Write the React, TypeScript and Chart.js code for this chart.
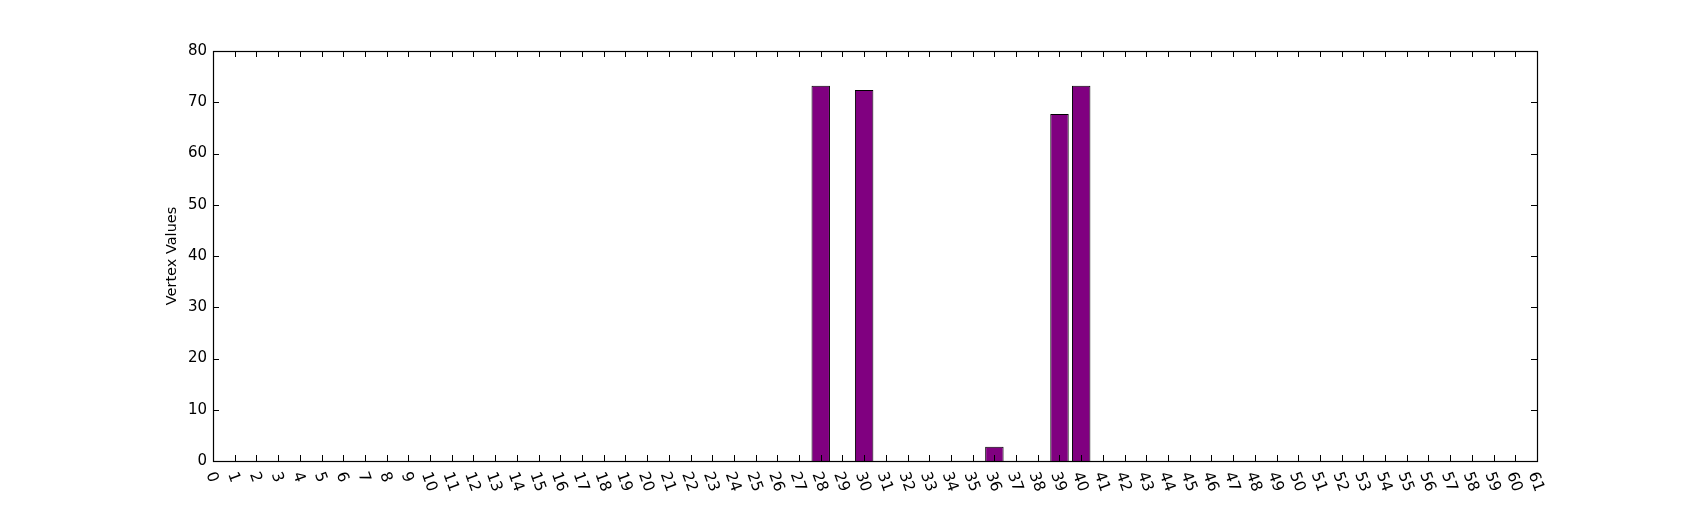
import React, { useEffect, useRef } from 'react';
import { Chart, registerables } from 'chart.js';

Chart.register(...registerables);

const categories: string[] = [
  '0', '1', '2', '3', '4', '5', '6', '7', '8', '9',
  '10', '11', '12', '13', '14', '15', '16', '17', '18', '19',
  '20', '21', '22', '23', '24', '25', '26', '27', '28', '29',
  '30', '31', '32', '33', '34', '35', '36', '37', '38', '39',
  '40', '41', '42', '43', '44', '45', '46', '47', '48', '49',
  '50', '51', '52', '53', '54', '55', '56', '57', '58', '59',
  '60', '61',
];

const vertexValues: number[] = [
  0, 0, 0, 0, 0, 0, 0, 0, 0, 0,
  0, 0, 0, 0, 0, 0, 0, 0, 0, 0,
  0, 0, 0, 0, 0, 0, 0, 0, 73.2, 0,
  72.4, 0, 0, 0, 0, 0, 2.8, 0, 0, 67.7,
  73.2, 0, 0, 0, 0, 0, 0, 0, 0, 0,
  0, 0, 0, 0, 0, 0, 0, 0, 0, 0,
  0, 0,
];

const yTicks: number[] = [0, 10, 20, 30, 40, 50, 60, 70, 80];

const yLabel = 'Vertex Values';

const FONT = '"DejaVu Sans", "Liberation Sans", sans-serif';
const TICK_FONT_SIZE = 15;
const X_TICK_FONT_SIZE = 15.5;
const X_ROT = (70 * Math.PI) / 180;

const mplPlugin = {
  id: 'mplFrame',
  afterDraw(chart: any) {
    const { ctx, chartArea } = chart;
    const { left, right, top, bottom } = chartArea;
    const xs = chart.scales.x;
    const ys = chart.scales.y;
    ctx.save();
    ctx.strokeStyle = '#000000';
    ctx.lineWidth = 1;
    ctx.beginPath();
    categories.forEach((_, i) => {
      const px = Math.round(xs.getPixelForValue(i)) + 0.5;
      ctx.moveTo(px, bottom);
      ctx.lineTo(px, bottom - 6);
      ctx.moveTo(px, top);
      ctx.lineTo(px, top + 6);
    });
    yTicks.forEach((v) => {
      const py = Math.round(ys.getPixelForValue(v)) + 0.5;
      ctx.moveTo(left, py);
      ctx.lineTo(left + 6, py);
      ctx.moveTo(right, py);
      ctx.lineTo(right - 6, py);
    });
    ctx.stroke();
    ctx.lineWidth = 1.2;
    ctx.strokeRect(left + 0.5, top + 0.5, right - left, bottom - top);

    // rotated x tick labels
    ctx.fillStyle = '#000000';
    ctx.font = `${X_TICK_FONT_SIZE}px ${FONT}`;
    ctx.textAlign = 'center';
    ctx.textBaseline = 'alphabetic';
    const lh = 1.164 * X_TICK_FONT_SIZE;
    categories.forEach((label, i) => {
      const px = xs.getPixelForValue(i);
      const w = ctx.measureText(label).width;
      const H = w * Math.sin(X_ROT) + lh * Math.cos(X_ROT);
      const cy = bottom + 8 + H / 2;
      ctx.save();
      ctx.translate(px, cy);
      ctx.rotate(X_ROT);
      ctx.fillText(label, 0, 0.346 * X_TICK_FONT_SIZE);
      ctx.restore();
    });
    ctx.restore();
  },
};

export default function App() {
  const canvasRef = useRef<HTMLCanvasElement | null>(null);

  useEffect(() => {
    const canvas = canvasRef.current;
    if (!canvas) return;
    const chart = new Chart(canvas, {
      type: 'bar',
      data: {
        labels: categories,
        datasets: [
          {
            label: yLabel,
            data: vertexValues,
            backgroundColor: '#800080',
            borderColor: '#000000',
            borderWidth: 1,
            borderSkipped: 'start',
            barPercentage: 0.85,
            categoryPercentage: 1,
          },
        ],
      },
      options: {
        responsive: false,
        maintainAspectRatio: false,
        animation: false,
        events: [],
        layout: { padding: { top: 51, right: 170, bottom: 0, left: 0 } },
        plugins: {
          legend: { display: false },
          tooltip: { enabled: false },
          title: { display: false },
        },
        scales: {
          x: {
            type: 'category',
            offset: false,
            grid: { display: false, drawTicks: false },
            border: { display: false },
            ticks: { display: false },
            afterFit: (scale: any) => {
              scale.height = 51;
            },
          },
          y: {
            type: 'linear',
            min: 0,
            max: 80,
            grid: { display: false, drawTicks: false },
            border: { display: false },
            afterBuildTicks: (scale: any) => {
              scale.ticks = yTicks.map((v) => ({ value: v }));
            },
            ticks: {
              padding: 6,
              color: '#000000',
              font: { family: FONT, size: TICK_FONT_SIZE },
            },
            title: {
              display: true,
              text: yLabel,
              color: '#000000',
              font: { family: FONT, size: 14.5 },
              padding: { top: 164, bottom: 0 },
            },
            afterFit: (scale: any) => {
              scale.width = 213;
            },
          },
        },
      },
      plugins: [mplPlugin],
    });
    return () => {
      chart.destroy();
    };
  }, []);

  return (
    <div style={{ position: 'absolute', left: 0, top: 0, width: 1707, height: 512, background: '#ffffff' }}>
      <canvas ref={canvasRef} width={1707} height={512} style={{ display: 'block', width: 1707, height: 512 }} />
    </div>
  );
}
